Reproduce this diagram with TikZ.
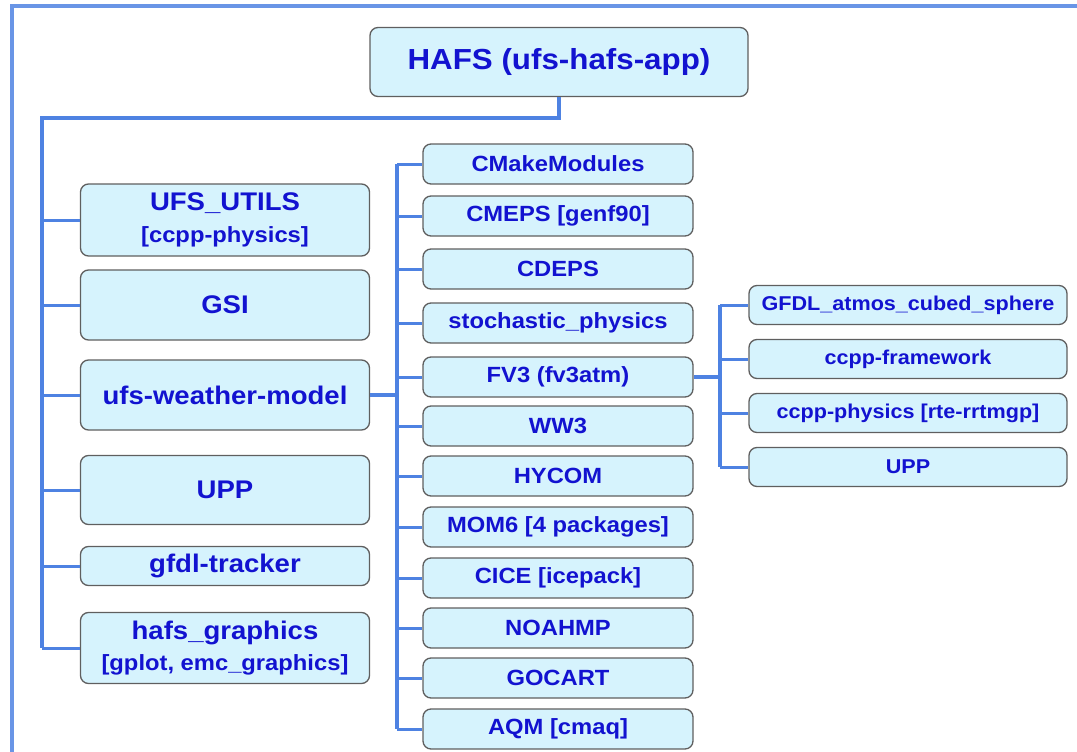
\documentclass[tikz,border=0pt]{standalone}
\usepackage{fontspec}
\setmainfont{Liberation Sans}[FakeStretch=1.08]
\usepackage{tikz}

\definecolor{boxfill}{RGB}{214,243,253}
\definecolor{boxline}{RGB}{95,95,95}
\definecolor{txtblue}{RGB}{18,18,208}
\definecolor{linkblue}{RGB}{78,130,226}

\tikzset{
  box/.style={draw=boxline, line width=1.3pt, fill=boxfill, rounded corners=8pt,
    text=txtblue, inner sep=0pt, align=center},
  topbox/.style={box, minimum width=378pt, minimum height=69pt,
    font=\bfseries\fontsize{29}{34}\selectfont},
  leftbox/.style={box, minimum width=289pt, minimum height=70pt,
    font=\bfseries\fontsize{25.5}{30}\selectfont},
  midbox/.style={box, minimum width=270pt, minimum height=40pt,
    font=\bfseries\fontsize{22}{26}\selectfont},
  rightbox/.style={box, minimum width=318pt, minimum height=39pt,
    font=\bfseries\fontsize{20}{24}\selectfont},
  link/.style={draw=linkblue, line width=3pt},
  trunk/.style={draw=linkblue, line width=4.5pt}
}
\newcommand{\subline}{\fontsize{22}{26}\selectfont}

\begin{document}
\begin{tikzpicture}[x=1pt, y=-1pt]
        \useasboundingbox (0,0) rectangle (1077,752);
        % frame
        \draw[linkblue!85, line width=3.5pt] (1077,6) -- (12,6) -- (12,752);

        \node[topbox] (hafs) at (559,62) {HAFS (ufs-hafs-app)};

        % left column
        \node[leftbox, minimum height=72pt] (utils) at (225,220) {UFS\_UTILS\\[2pt]{\subline [ccpp-physics]}};
        \node[leftbox] (gsi) at (225,305) {GSI};
        \node[leftbox] (wm) at (225,395) {ufs-weather-model};
        \node[leftbox, minimum height=69pt] (upp) at (225,490) {UPP};
        \node[leftbox, minimum height=39pt] (tracker) at (225,566) {gfdl-tracker};
        \node[leftbox, minimum height=71pt] (graphics) at (225,648) {hafs\_graphics\\[1pt]{\subline [gplot, emc\_graphics]}};

        % middle column
        \node[midbox] (cmake) at (558,164) {CMakeModules};
        \node[midbox] (cmeps) at (558,216) {CMEPS [genf90]};
        \node[midbox] (cdeps) at (558,269) {CDEPS};
        \node[midbox] (stoch) at (558,323) {stochastic\_physics};
        \node[midbox] (fv3) at (558,377) {FV3 (fv3atm)};
        \node[midbox] (ww3) at (558,426) {WW3};
        \node[midbox] (hycom) at (558,476) {HYCOM};
        \node[midbox] (mom6) at (558,527) {MOM6 [4 packages]};
        \node[midbox] (cice) at (558,578) {CICE [icepack]};
        \node[midbox] (noahmp) at (558,628) {NOAHMP};
        \node[midbox] (gocart) at (558,678) {GOCART};
        \node[midbox] (aqm) at (558,729) {AQM [cmaq]};

        % right column
        \node[rightbox] (gfdl) at (908,305) {GFDL\_atmos\_cubed\_sphere};
        \node[rightbox] (ccppfw) at (908,359) {ccpp-framework};
        \node[rightbox] (ccppphys) at (908,413) {ccpp-physics [rte-rrtmgp]};
        \node[rightbox] (upp2) at (908,467) {UPP};

        \coordinate (ltop) at (42,118);
        \coordinate (mhub) at (397,395);
        \coordinate (rhub) at (720,377);

        \draw[trunk] (hafs.south) |- (ltop) -- (ltop |- graphics.west);
        \foreach \to in {utils, gsi, wm, upp, tracker, graphics}
            \draw[link] (ltop |- \to.west) -- (\to.west);

        \draw[trunk] (wm.east) -- (mhub);
        \draw[trunk] (mhub |- cmake.west) -- (mhub |- aqm.west);
        \foreach \to in {cmake, cmeps, cdeps, stoch, fv3, ww3, hycom, mom6, cice, noahmp, gocart, aqm}
            \draw[link] (mhub |- \to.west) -- (\to.west);

        \draw[trunk] (fv3.east) -- (rhub);
        \draw[trunk] (rhub |- gfdl.west) -- (rhub |- upp2.west);
        \foreach \to in {gfdl, ccppfw, ccppphys, upp2}
            \draw[link] (rhub |- \to.west) -- (\to.west);
      \end{tikzpicture}
\end{document}
